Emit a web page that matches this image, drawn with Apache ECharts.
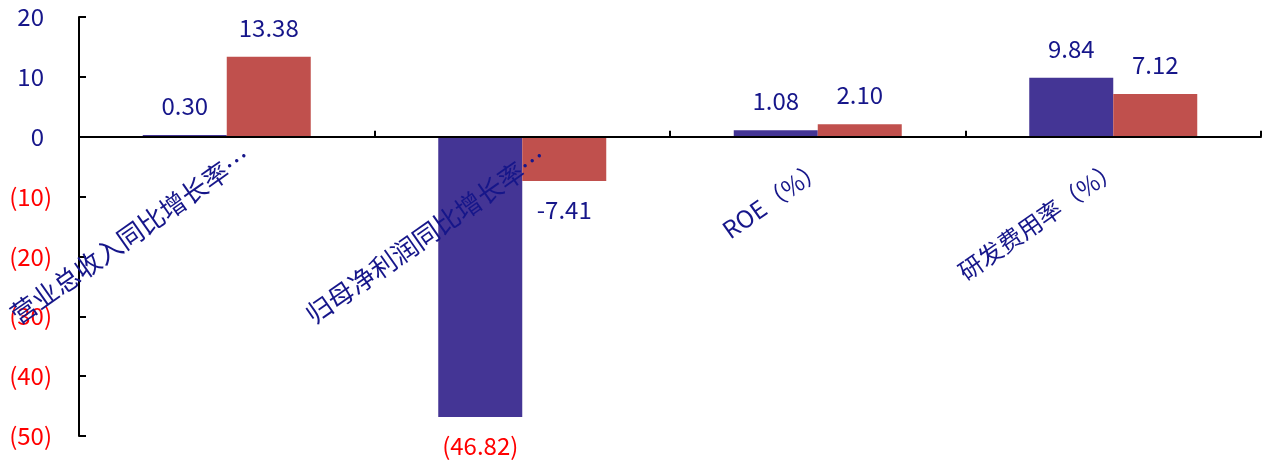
<!DOCTYPE html>
<html>
<head>
<meta charset="utf-8">
<script src="https://cdn.jsdelivr.net/npm/echarts@6/dist/echarts.min.js"></script>
<style>
  html, body { margin: 0; padding: 0; background: #fff; }
  #chart { width: 1266px; height: 460px; }
</style>
</head>
<body>
<div id="chart"></div>
<script>
// Indicator names along the category axis
const categories = ['营业总收入同比增长率…', '归母净利润同比增长率…', 'ROE（%）', '研发费用率（%）'];
// Two compared series (blue, red)
const seriesOne = [0.30, -46.82, 1.08, 9.84];
const seriesTwo = [13.38, -7.41, 2.10, 7.12];
// Value axis range
const yMin = -50;
const yMax = 20;
const yStep = 10;

const NAVY = '#16168a';
const RED_TEXT = '#ff0000';
const FONT = '"Noto Sans CJK SC", "Noto Sans", sans-serif';

const CHART_H = 460;
const GRID = { left: 79, right: 5, top: 17, bottom: 24 };
// Shift the category axis up from the grid bottom to the value-axis zero line
const plotH = CHART_H - GRID.top - GRID.bottom;
const zeroOffset = -plotH * (0 - yMin) / (yMax - yMin);

const chart = echarts.init(document.getElementById('chart'), null, { renderer: 'canvas' });

function barData(values) {
  return values.map(v => ({ value: v, label: { position: v < 0 ? 'bottom' : 'top' } }));
}

chart.setOption({
  animation: false,
  backgroundColor: '#fff',
  grid: Object.assign({ containLabel: false, outerBoundsMode: 'none' }, GRID),
  xAxis: {
    type: 'category',
    data: categories,
    position: 'bottom',
    offset: zeroOffset,
    z: 10,
    axisLine: { show: true, onZero: false, lineStyle: { color: '#000', width: 2 } },
    axisTick: { show: true, inside: true, length: 6, lineStyle: { color: '#000', width: 2 } },
    axisLabel: {
      interval: 0,
      rotate: 35,
      margin: -13,
      align: 'right',
      verticalAlign: 'top',
      hideOverlap: false,
      color: NAVY,
      fontSize: 24,
      fontFamily: FONT,
      // long (truncated) names sit closer to the axis than the short ones
      formatter: v => (v.length > 8 ? '{l|' + v + '}' : '{s|' + v + '}'),
      rich: {
        l: { lineHeight: 72, fontSize: 26, color: NAVY, fontFamily: FONT },
        s: { lineHeight: 72, padding: [0, 21, 0, 0], fontSize: 24, color: NAVY, fontFamily: FONT }
      }
    }
  },
  yAxis: {
    type: 'value',
    min: yMin,
    max: yMax,
    interval: yStep,
    splitLine: { show: false },
    axisLine: { show: true, lineStyle: { color: '#000', width: 2 } },
    axisTick: { show: true, inside: true, length: 7, lineStyle: { color: '#000', width: 2 } },
    axisLabel: {
      margin: 27,
      fontSize: 24,
      fontFamily: FONT,
      color: NAVY,
      formatter: v => (v < 0 ? '{neg|(' + (-v) + ')}' : '{pos|' + v + '}'),
      rich: {
        neg: { color: RED_TEXT, fontSize: 24, fontFamily: FONT },
        pos: { color: NAVY, fontSize: 24, fontFamily: FONT, padding: [0, 8, 0, 0] }
      }
    }
  },
  series: [
    {
      name: 'seriesOne',
      type: 'bar',
      data: barData(seriesOne),
      barWidth: 84,
      barGap: '0%',
      itemStyle: { color: '#443595' },
      label: {
        show: true,
        distance: 17,
        fontSize: 24,
        fontFamily: FONT,
        color: NAVY,
        formatter: p => (p.value < 0
          ? '{neg|(' + Math.abs(p.value).toFixed(2) + ')}'
          : '{pos|' + p.value.toFixed(2) + '}'),
        rich: {
          neg: { color: RED_TEXT, fontSize: 24, fontFamily: FONT },
          pos: { color: NAVY, fontSize: 24, fontFamily: FONT }
        }
      }
    },
    {
      name: 'seriesTwo',
      type: 'bar',
      data: barData(seriesTwo),
      barWidth: 84,
      barGap: '0%',
      itemStyle: { color: '#c0504d' },
      label: {
        show: true,
        distance: 17,
        fontSize: 24,
        fontFamily: FONT,
        color: NAVY,
        formatter: p => p.value.toFixed(2)
      }
    }
  ]
});
</script>
</body>
</html>
